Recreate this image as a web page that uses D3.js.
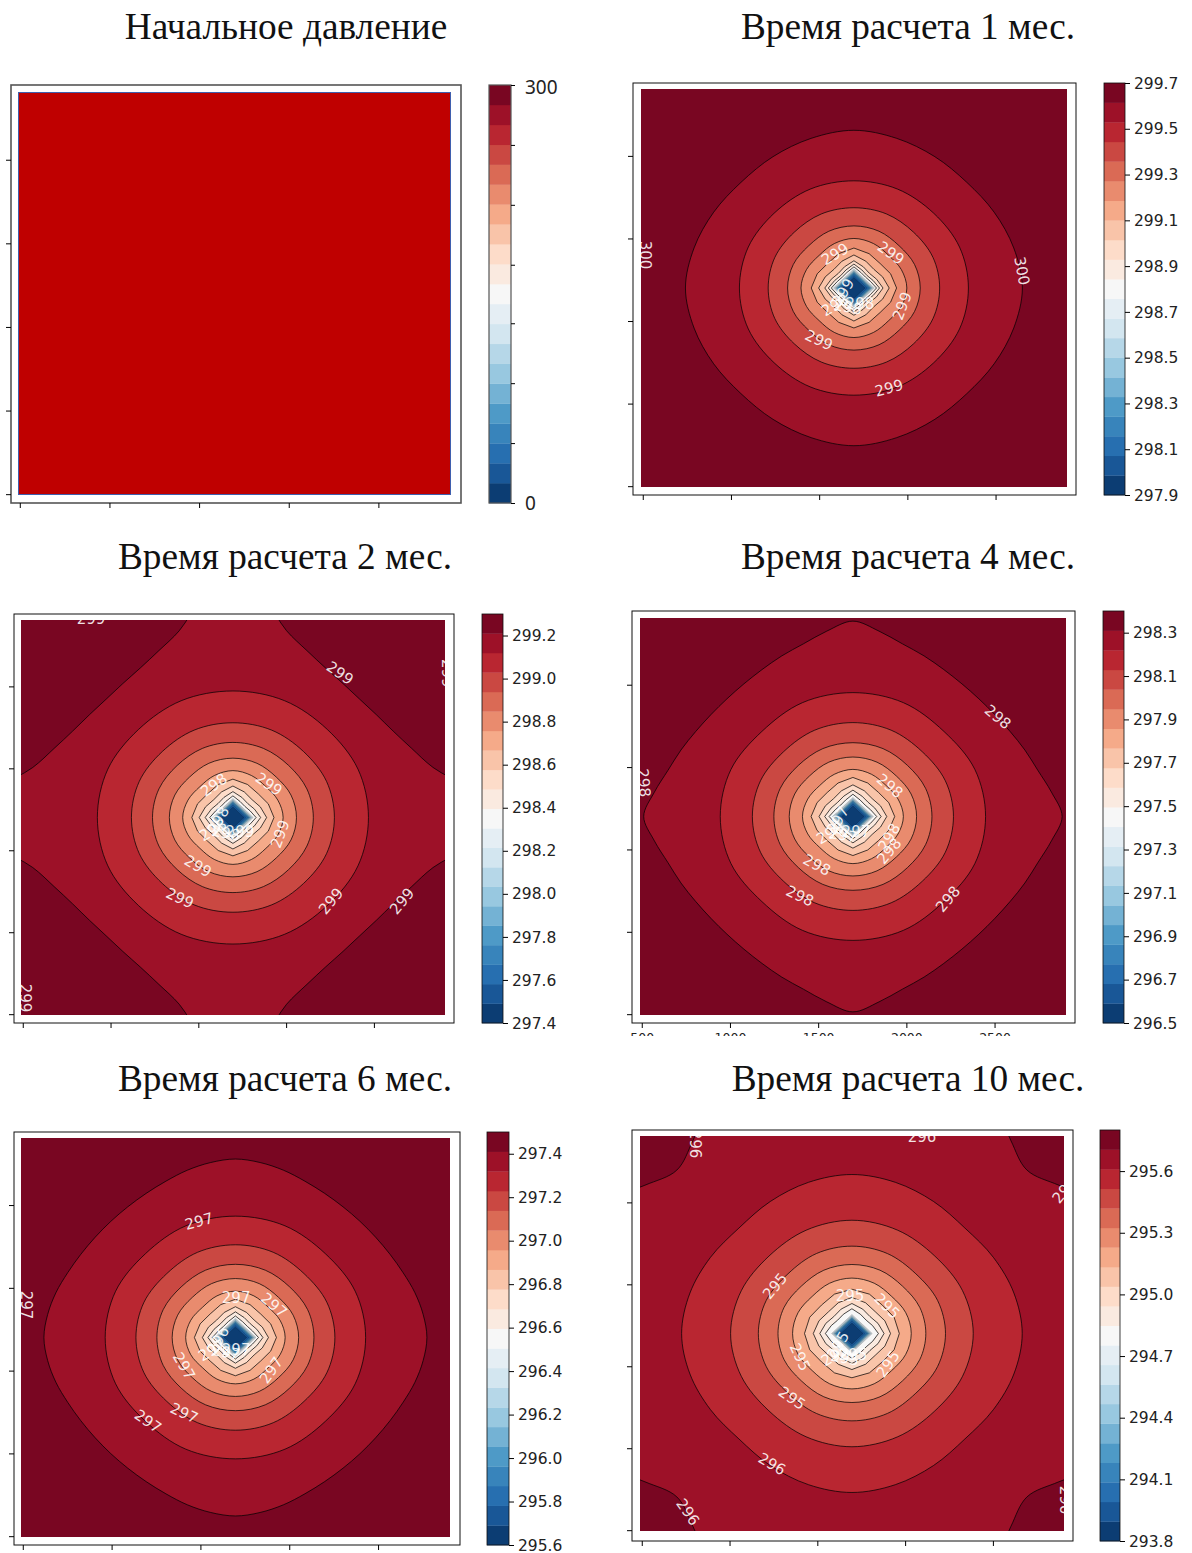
<!DOCTYPE html>
<html>
<head>
<meta charset="utf-8">
<script src="https://d3js.org/d3.v7.min.js"></script>
<style>
  body { margin: 0; background: #fff; }
  .title { font-family: "Liberation Serif", serif; font-size: 37.3px; fill: #111; text-anchor: middle; }
  .clabel { font-family: "DejaVu Sans", sans-serif; font-size: 15px; fill: #fff; fill-opacity: 0.88; text-anchor: middle; }
  .cb text { font-family: "DejaVu Sans", sans-serif; font-size: 15.5px; fill: #222; }
  .cb.first text { font-family: "Noto Sans", sans-serif; font-size: 19px; }
  .ax text { font-family: "DejaVu Sans", sans-serif; font-size: 12.5px; fill: #222; }
</style>
</head>
<body>
<div id="chart"></div>
<script>
// grid coordinates of the reservoir, metres
const xDomain = [490, 2905];
const yDomain = [495, 2905];
const wellX = 1697;
const wellY = 1700;
const gridTicks = [500, 1000, 1500, 2000, 2500];

const titles = ["Начальное давление", "Время расчета 1 мес.", "Время расчета 2 мес.", "Время расчета 4 мес.", "Время расчета 6 мес.", "Время расчета 10 мес."];

// colorbar ranges and ticks
const cbRange0 = [0, 300];
const cbTicks0 = [0, 43, 86, 129, 171, 214, 257, 300];
const cbRange1 = [297.9, 299.7];
const cbTicks1 = [297.9, 298.1, 298.3, 298.5, 298.7, 298.9, 299.1, 299.3, 299.5, 299.7];
const cbRange2 = [297.4, 299.3];
const cbTicks2 = [297.4, 297.6, 297.8, 298.0, 298.2, 298.4, 298.6, 298.8, 299.0, 299.2];
const cbRange4 = [296.5, 298.4];
const cbTicks4 = [296.5, 296.7, 296.9, 297.1, 297.3, 297.5, 297.7, 297.9, 298.1, 298.3];
const cbRange6 = [295.6, 297.5];
const cbTicks6 = [295.6, 295.8, 296.0, 296.2, 296.4, 296.6, 296.8, 297.0, 297.2, 297.4];
const cbRange10 = [293.8, 295.8];
const cbTicks10 = [293.8, 294.1, 294.4, 294.7, 295.0, 295.3, 295.6];

// contour radii around the well, read from 0 to 45 degrees (metres), outermost first.
// shape repeats in the other octants
const rings1 = [[955, 938, 918, 905], [649, 648, 640], [486, 485, 478], [376, 372, 362], [300, 291, 279], [242, 225, 210], [200, 176, 160], [165, 139, 125], [145, 118, 106], [128, 102, 93]];
const rings2 = [[1500, 1350, 1180, 1102, 1054, 1030, 1021], [772, 771, 760], [578, 577, 569], [458, 456, 449], [362, 358, 349], [286, 277, 266], [234, 218, 204], [192, 169, 154], [158, 133, 120], [132, 106, 96]];
const rings4 = [[1186, 1135, 1085, 1055, 1030, 1015, 1010], [752, 748, 730], [570, 567, 556], [448, 446, 438], [361, 357, 348], [286, 277, 266], [237, 220, 206], [192, 169, 154], [160, 134, 122], [135, 108, 98]];
const rings6 = [[1078, 1066, 1046, 1022, 1005, 995, 992], [733, 730, 716], [560, 557, 546], [442, 440, 432], [356, 352, 343], [280, 272, 260], [231, 215, 201], [186, 164, 149], [155, 130, 118], [130, 104, 95]];
const rings10 = [[1900, 1850, 1800, 1720, 1620, 1486, 1410], [970, 955, 930, 910], [691, 682, 668], [533, 528, 515], [421, 418, 408], [338, 332, 320], [270, 260, 245], [220, 203, 188], [183, 161, 146], [151, 127, 115]];
// blue bands in the middle look the same on every panel
const coreRings = [[116, 89, 82], [111, 85, 79], [106, 81, 75], [102, 78, 72], [98, 75, 70], [94, 72, 67], [90, 69, 64], [84, 64, 60], [76, 58, 54], [64, 49, 45]];

// contour labels: text, x, y, angle
const labels1 = [["300", 513, 1900, 90], ["300", 2650, 1803, 80], ["299", 1896, 1095, -15], ["299", 1499, 1385, 25], ["299", 1590, 1906, -30], ["299", 1907, 1912, 35], ["299", 1970, 1591, -70], ["299", 1635, 1676, -60], ["298", 1590, 1597, -30], ["298", 1663, 1585, 10], ["298", 1731, 1603, 0]];
const labels2 = [["299", 889, 2911, 0], ["299", 2307, 2582, 35], ["299", 2920, 2580, 90], ["299", 513, 599, 90], ["299", 2660, 1190, -50], ["299", 2255, 1190, -50], ["299", 1395, 1209, 25], ["299", 1498, 1404, 30], ["299", 1965, 1599, -70], ["298", 1589, 1898, -35], ["299", 1902, 1904, 35], ["298", 1612, 1685, -60], ["298", 1583, 1624, -30], ["298", 1657, 1606, 10], ["299", 1737, 1612, 0]];
const labels4 = [["298", 513, 1904, 85], ["298", 2519, 2304, 40], ["298", 2236, 1199, -50], ["298", 1397, 1218, 25], ["298", 1493, 1406, 28], ["298", 1902, 1491, -50], ["298", 1902, 1576, -60], ["298", 1907, 1885, 40], ["297", 1612, 1679, -60], ["298", 1567, 1600, -30], ["297", 1641, 1588, 10], ["297", 1714, 1606, 0]];
const labels6 = [["297", 1492, 2403, -15], ["297", 518, 1896, 90], ["297", 1701, 1938, 0], ["297", 1915, 1896, 40], ["297", 1408, 1528, 60], ["297", 1898, 1503, -55], ["297", 1408, 1244, 25], ["297", 1205, 1195, 35], ["296", 1599, 1685, -60], ["297", 1565, 1624, -30], ["297", 1644, 1612, 10], ["297", 1701, 1624, 0]];
const labels10 = [["296", 803, 2856, 90], ["296", 2096, 2899, 0], ["296", 2908, 2575, -50], ["296", 2910, 684, 90], ["296", 763, 611, 55], ["296", 1242, 904, 30], ["295", 1356, 1306, 35], ["295", 1259, 1990, -50], ["295", 1401, 1557, 65], ["295", 1686, 1929, 0], ["295", 1897, 1868, 45], ["295", 1902, 1514, -55], ["295", 1618, 1630, -60], ["295", 1600, 1569, -30], ["295", 1657, 1551, 10], ["295", 1703, 1569, 0]];

const w = 1192;
const h = 1553;
const nBands = 21;

// layout of every panel, pixels
const panels = [
  {title: [286, 39], frame: [11, 85, 461, 503], plot: [18, 92, 451, 495], bar: [489, 511], cb: cbRange0, cbTicks: cbTicks0, rings: null, labels: []},
  {title: [908, 39], frame: [633, 83, 1076, 495], plot: [641, 89, 1067, 487], bar: [1104, 1125], cb: cbRange1, cbTicks: cbTicks1, rings: rings1, labels: labels1},
  {title: [285, 569], frame: [14, 614, 454, 1023], plot: [21, 620, 445, 1015], bar: [482, 503], cb: cbRange2, cbTicks: cbTicks2, rings: rings2, labels: labels2},
  {title: [908, 569], frame: [632, 611, 1075, 1023], plot: [640, 618, 1066, 1015], bar: [1103, 1124], cb: cbRange4, cbTicks: cbTicks4, rings: rings4, labels: labels4, xLabels: true},
  {title: [285, 1091], frame: [14, 1132, 460, 1545], plot: [21, 1138, 450, 1537], bar: [487, 509], cb: cbRange6, cbTicks: cbTicks6, rings: rings6, labels: labels6},
  {title: [908, 1091], frame: [632, 1130, 1073, 1541], plot: [640, 1136, 1064, 1531], bar: [1100, 1120], cb: cbRange10, cbTicks: cbTicks10, rings: rings10, labels: labels10}
];

// same stops as the matplotlib RdBu_r map
const rdbu = d3.piecewise(d3.interpolateRgb, ["#053061", "#2166ac", "#4393c3", "#92c5de", "#d1e5f0", "#f7f7f7", "#fddbc7", "#f4a582", "#d6604d", "#b2182b", "#67001f"]);
const bandColor = i => rdbu((i + 0.5) / nBands);

// turns readings from one octant into a full closed contour
function ringPoints(radii) {
  const n = radii.length - 1;
  return d3.range(8 * n).map(k => {
    const a = k * Math.PI / 4 / n;
    const idx = k % (2 * n);
    const r = radii[idx <= n ? idx : 2 * n - idx];
    return [wellX + r * Math.cos(a), wellY + r * Math.sin(a)];
  });
}

const svg = d3.select("#chart").append("svg")
  .attr("width", w)
  .attr("height", h);

panels.forEach((p, idx) => {
  svg.append("text")
    .attr("class", "title")
    .attr("x", p.title[0])
    .attr("y", p.title[1])
    .text(titles[idx]);

  const xScale = d3.scaleLinear().domain(xDomain).range([p.plot[0], p.plot[2]]);
  const yScale = d3.scaleLinear().domain(yDomain).range([p.plot[3], p.plot[1]]);
  const first = idx === 0;

  const g = svg.append("g");

  g.append("rect")
    .attr("x", p.frame[0])
    .attr("y", p.frame[1])
    .attr("width", p.frame[2] - p.frame[0])
    .attr("height", p.frame[3] - p.frame[1])
    .attr("fill", "#fff")
    .attr("stroke", first ? "#555" : "#111")
    .attr("stroke-width", first ? 1.6 : 1);

  const clipId = "clip" + idx;
  svg.append("clipPath").attr("id", clipId).append("rect")
    .attr("x", p.plot[0])
    .attr("y", p.plot[1])
    .attr("width", p.plot[2] - p.plot[0])
    .attr("height", p.plot[3] - p.plot[1]);

  const area = g.append("g").attr("clip-path", `url(#${clipId})`);

  if (first) {
    // initial field is flat, the only line left is the blue one along the edge
    area.append("rect")
      .attr("x", p.plot[0])
      .attr("y", p.plot[1])
      .attr("width", p.plot[2] - p.plot[0])
      .attr("height", p.plot[3] - p.plot[1])
      .attr("fill", "#bf0000")
      .attr("stroke", "#3f5fae")
      .attr("stroke-width", 2);
  } else {
    area.append("rect")
      .attr("x", p.plot[0])
      .attr("y", p.plot[1])
      .attr("width", p.plot[2] - p.plot[0])
      .attr("height", p.plot[3] - p.plot[1])
      .attr("fill", bandColor(20));

    const allRings = p.rings.concat(coreRings);
    allRings.forEach((radii, j) => {
      const band = 19 - j;
      const line = d3.line()
        .x(d => xScale(d[0]))
        .y(d => yScale(d[1]))
        .curve(radii[0] >= 280 ? d3.curveCatmullRomClosed : d3.curveLinearClosed);
      area.append("path")
        .attr("d", line(ringPoints(radii)))
        .attr("fill", bandColor(band))
        .attr("stroke", "#000")
        .attr("stroke-width", band >= 10 ? 0.8 : 0.4)
        .attr("stroke-opacity", band >= 10 ? 0.9 : 0.45);
    });

    area.selectAll("text.clabel")
      .data(p.labels)
      .enter()
      .append("text")
      .attr("class", "clabel")
      .attr("dy", "0.35em")
      .attr("transform", d => `translate(${xScale(d[1])},${yScale(d[2])}) rotate(${d[3]})`)
      .text(d => d[0]);
  }

  // axes, tick labels were cropped away in all panels but one
  const xAxis = d3.axisBottom(xScale).tickValues(gridTicks).tickSize(5).tickPadding(5);
  xAxis.tickFormat(p.xLabels ? d3.format("d") : "");
  const yAxis = d3.axisLeft(yScale).tickValues(gridTicks).tickSize(5).tickFormat("");

  const xg = g.append("g")
    .attr("class", "ax")
    .attr("transform", `translate(0,${p.frame[3]})`)
    .call(xAxis);
  xg.select(".domain").remove();
  const yg = g.append("g")
    .attr("class", "ax")
    .attr("transform", `translate(${p.frame[0]},0)`)
    .call(yAxis);
  yg.select(".domain").remove();

  if (p.xLabels) {
    svg.append("clipPath").attr("id", "clipTicks").append("rect")
      .attr("x", 0)
      .attr("y", -10)
      .attr("width", w)
      .attr("height", 23);
    xg.attr("clip-path", "url(#clipTicks)");
  }

  // colorbar
  const cbScale = d3.scaleLinear().domain(p.cb).range([p.frame[3], p.frame[1]]);
  const bandScale = d3.scaleLinear().domain([0, nBands]).range([p.frame[3], p.frame[1]]);
  const cbG = g.append("g").attr("class", first ? "cb first" : "cb");

  cbG.selectAll("rect")
    .data(d3.range(nBands))
    .enter()
    .append("rect")
    .attr("x", p.bar[0])
    .attr("y", d => bandScale(d + 1))
    .attr("width", p.bar[1] - p.bar[0])
    .attr("height", d => bandScale(d) - bandScale(d + 1) + 0.3)
    .attr("fill", d => bandColor(d));

  cbG.append("rect")
    .attr("x", p.bar[0])
    .attr("y", p.frame[1])
    .attr("width", p.bar[1] - p.bar[0])
    .attr("height", p.frame[3] - p.frame[1])
    .attr("fill", "none")
    .attr("stroke", first ? "#555" : "#111")
    .attr("stroke-width", first ? 1.2 : 0.8);

  const cbAxis = d3.axisRight(cbScale)
    .tickValues(p.cbTicks)
    .tickSize(first ? 4 : 5)
    .tickPadding(first ? 10 : 4)
    .tickFormat(first ? (d => (d === 0 || d === 300) ? d : "") : d3.format(".1f"));

  const cbAxisG = cbG.append("g")
    .attr("transform", `translate(${p.bar[1]},0)`)
    .call(cbAxis);
  cbAxisG.select(".domain").remove();
  cbAxisG.selectAll("text").attr("dy", d => (first && d === 300) ? "0.45em" : "0.33em");
});
</script>
</body>
</html>
